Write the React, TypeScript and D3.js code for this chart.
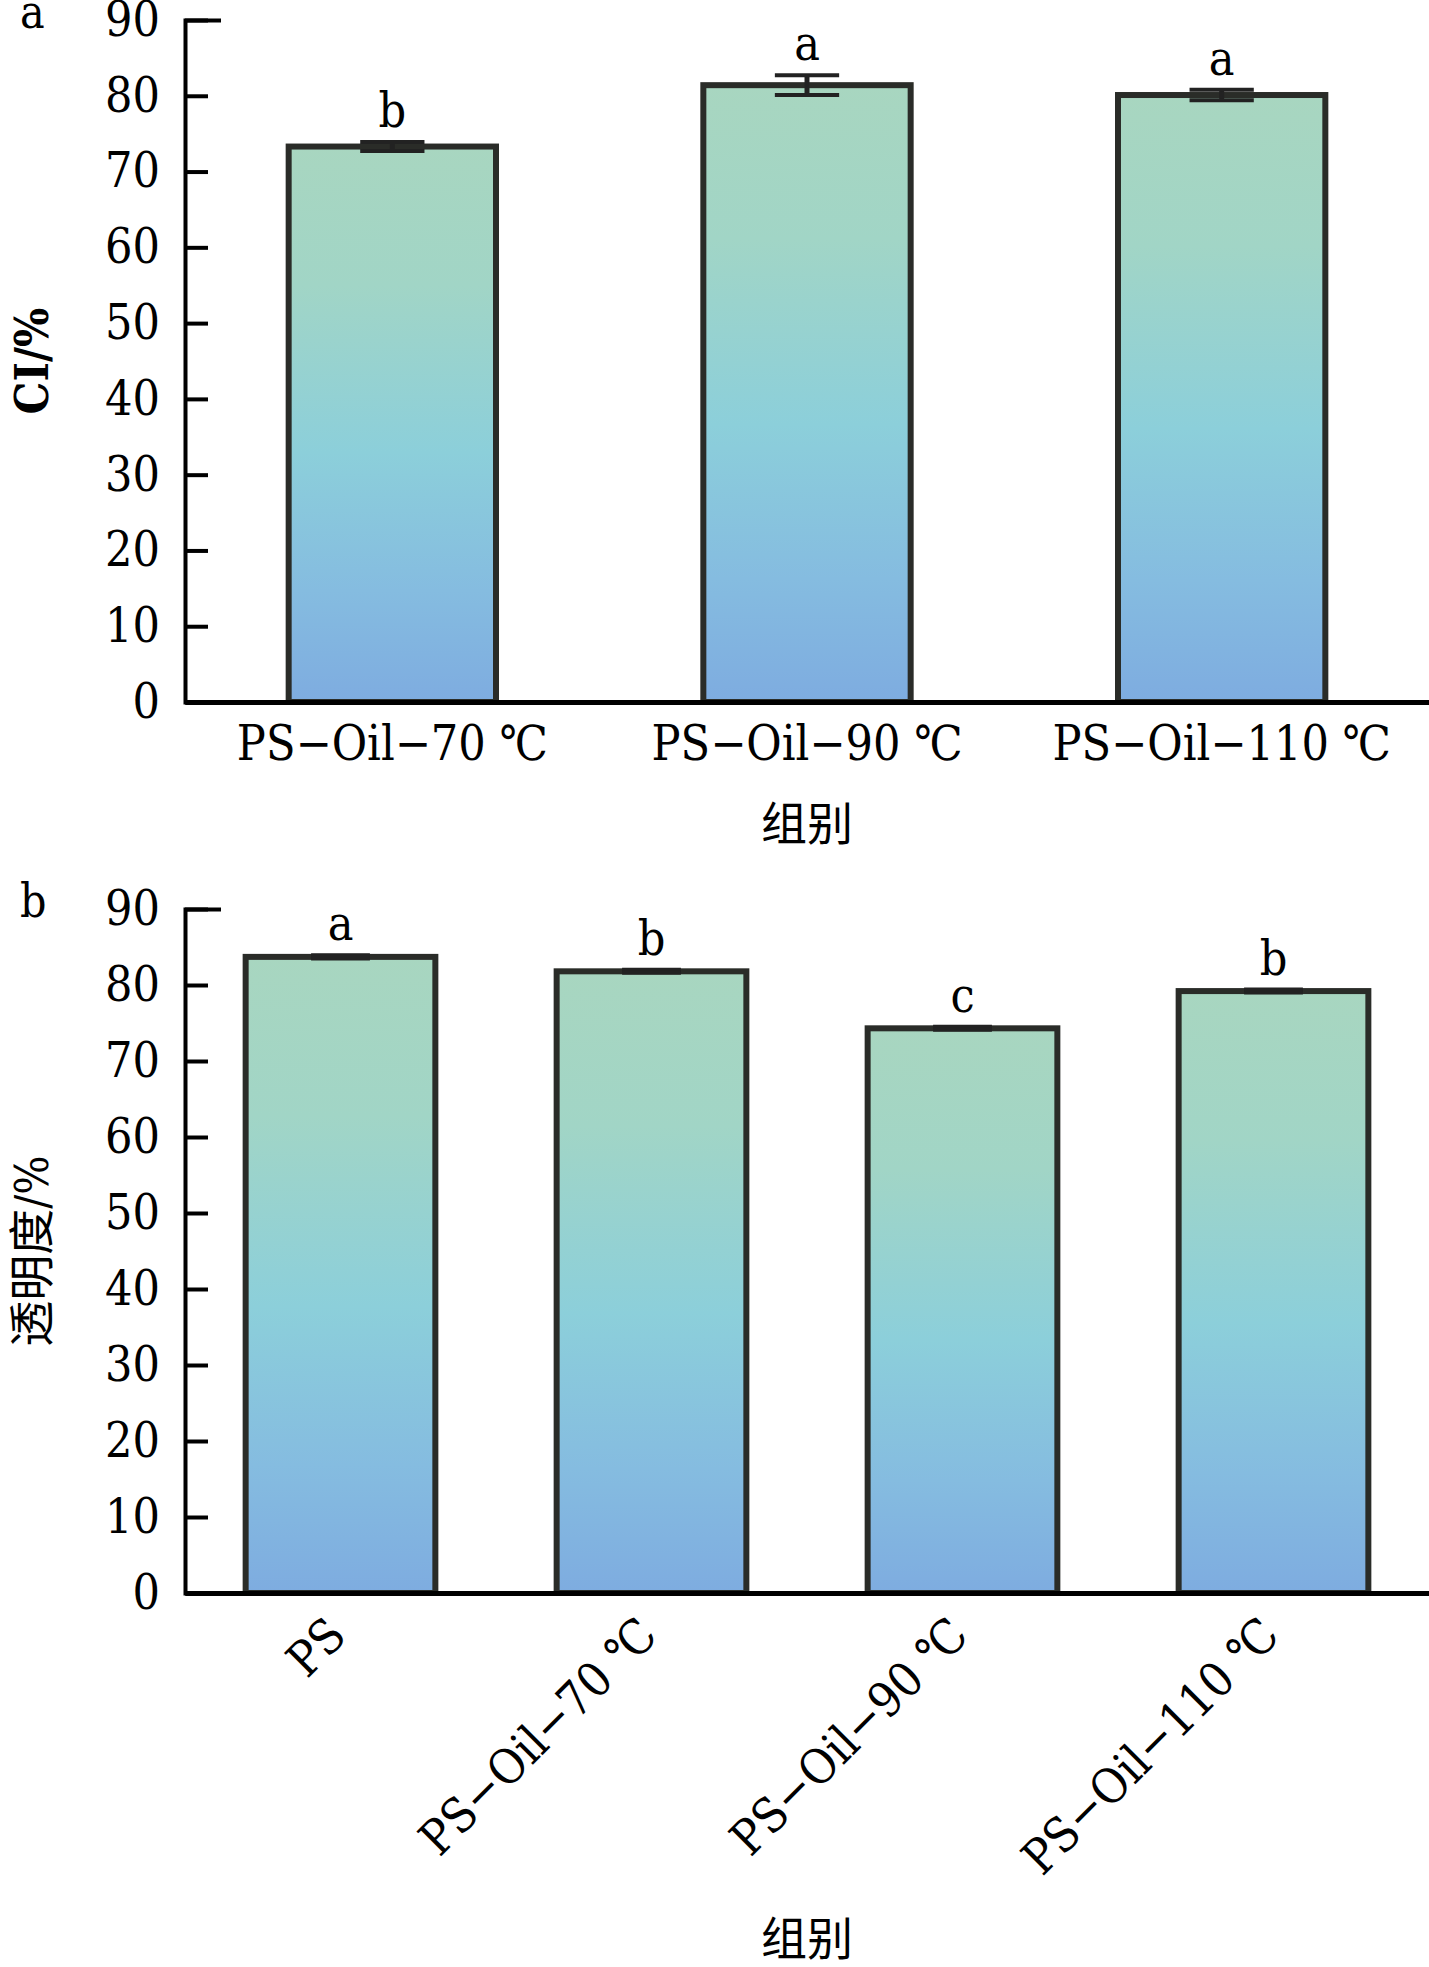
import { useEffect, useRef } from 'react';
import * as d3 from 'd3';

// panel a: CI
const groupsA = ['PS−Oil−70 ℃', 'PS−Oil−90 ℃', 'PS−Oil−110 ℃'];
const ciValues = [73.3, 81.4, 80.1];
const ciErrors = [0.6, 1.3, 0.7];
const ciLetters = ['b', 'a', 'a'];

// panel b: transparency
const groupsB = ['PS', 'PS−Oil−70 ℃', 'PS−Oil−90 ℃', 'PS−Oil−110 ℃'];
const transValues = [83.7, 81.8, 74.3, 79.2];
const transErrors = [0.2, 0.2, 0.2, 0.2];
const transLetters = ['a', 'b', 'c', 'b'];

const yTicks = [0, 10, 20, 30, 40, 50, 60, 70, 80, 90];

const W = 1429;
const H = 1967;
const SERIF = "'DejaVu Serif Condensed', 'DejaVu Serif', serif";
const CJK = "'Noto Sans CJK SC', sans-serif";

interface PanelOpts {
  tag: string;
  yLabel: string;
  groups: string[];
  values: number[];
  errors: number[];
  letters: string[];
  top: number;
  bottom: number;
  padInner: number;
  padOuter: number;
  rotate: boolean;
  titleY: number;
}

const App = () => {
  const svgRef = useRef<SVGSVGElement>(null);

  useEffect(() => {
    if (!svgRef.current) return;
    const svg = d3.select(svgRef.current);
    svg.selectAll('*').remove();

    const grad = svg.append('defs').append('linearGradient')
      .attr('id', 'barGrad')
      .attr('x1', 0).attr('y1', 0).attr('x2', 0).attr('y2', 1);
    [
      [0, '#a8d6c0'],
      [0.25, '#a1d5c6'],
      [0.55, '#8ccfda'],
      [0.8, '#85bce0'],
      [1, '#7eace0'],
    ].forEach(([o, c]) => grad.append('stop').attr('offset', o as number).attr('stop-color', c as string));

    const left = 185;
    const right = W;

    const drawPanel = (o: PanelOpts) => {
      const x = d3.scaleBand<string>()
        .domain(o.groups)
        .range([left, right])
        .paddingInner(o.padInner)
        .paddingOuter(o.padOuter);
      const y = d3.scaleLinear().domain([0, 90]).range([o.bottom, o.top]);
      const g = svg.append('g');

      // bars
      g.selectAll('rect.bar')
        .data(o.groups)
        .enter().append('rect')
        .attr('class', 'bar')
        .attr('x', d => x(d) || 0)
        .attr('y', (_, i) => y(o.values[i]))
        .attr('width', x.bandwidth())
        .attr('height', (_, i) => o.bottom - y(o.values[i]))
        .attr('fill', 'url(#barGrad)')
        .attr('stroke', '#2a2c28')
        .attr('stroke-width', 6);

      // error bars
      const cap = x.bandwidth() * 0.155;
      o.groups.forEach((d, i) => {
        const cx = (x(d) || 0) + x.bandwidth() / 2;
        const hi = y(o.values[i] + o.errors[i]);
        const lo = y(o.values[i] - o.errors[i]);
        g.append('line').attr('x1', cx).attr('x2', cx).attr('y1', hi).attr('y2', lo)
          .attr('stroke', '#222').attr('stroke-width', 5);
        [hi, lo].forEach(yy => {
          g.append('line').attr('x1', cx - cap).attr('x2', cx + cap).attr('y1', yy).attr('y2', yy)
            .attr('stroke', '#222').attr('stroke-width', 4);
        });
        g.append('text')
          .attr('x', cx)
          .attr('y', hi - 15)
          .attr('text-anchor', 'middle')
          .attr('font-family', SERIF)
          .attr('font-stretch', 'condensed')
          .attr('font-size', 48)
          .text(o.letters[i]);
      });

      // y axis
      const yAxis = g.append('g')
        .attr('transform', `translate(${left},0)`)
        .call(d3.axisLeft(y).tickValues(yTicks).tickSize(-23).tickSizeOuter(-36).tickPadding(25));
      yAxis.selectAll('path, line').attr('stroke', '#000').attr('stroke-width', 4);
      yAxis.selectAll('text')
        .attr('font-family', SERIF)
        .attr('font-stretch', 'condensed')
        .attr('font-size', 48)
        .attr('fill', '#000');

      // x axis
      const xAxis = g.append('g')
        .attr('transform', `translate(0,${o.bottom})`)
        .call(d3.axisBottom(x).tickSize(0).tickSizeOuter(0).tickPadding(o.rotate ? 0 : 24));
      xAxis.select('path').attr('stroke', '#000').attr('stroke-width', 5);
      const xt = xAxis.selectAll('text')
        .attr('font-family', SERIF)
        .attr('font-stretch', 'condensed')
        .attr('font-size', 48)
        .attr('fill', '#000');
      if (o.rotate) {
        xt.attr('text-anchor', 'end')
          .attr('dy', 0)
          .attr('y', 0)
          .attr('transform', 'translate(8,45) rotate(-45)');
      } else {
        xt.attr('dy', '0.71em');
      }

      // axis titles
      g.append('text')
        .attr('x', (left + right) / 2)
        .attr('y', o.titleY)
        .attr('text-anchor', 'middle')
        .attr('font-family', CJK)
        .attr('font-size', 46)
        .text('组别');

      g.append('text')
        .attr('transform', `translate(48,${(o.top + o.bottom) / 2}) rotate(-90)`)
        .attr('text-anchor', 'middle')
        .attr('font-family', `${SERIF}, ${CJK}`)
        .attr('font-size', 46)
        .attr('font-weight', o.tag === 'a' ? 'bold' : 'normal')
        .text(o.yLabel);

      g.append('text')
        .attr('x', 20)
        .attr('y', o.top + 8)
        .attr('font-family', SERIF)
        .attr('font-size', 46)
        .text(o.tag);
    };

    drawPanel({
      tag: 'a', yLabel: 'CI/%', groups: groupsA, values: ciValues, errors: ciErrors, letters: ciLetters,
      top: 20, bottom: 702, padInner: 0.5, padOuter: 0.25, rotate: false, titleY: 840,
    });
    drawPanel({
      tag: 'b', yLabel: '透明度/%', groups: groupsB, values: transValues, errors: transErrors, letters: transLetters,
      top: 909, bottom: 1593, padInner: 0.39, padOuter: 0.195, rotate: true, titleY: 1955,
    });
  }, []);

  return (
    <svg
      ref={svgRef}
      width={W}
      height={H}
      style={{ position: 'absolute', left: 0, top: 0, background: '#fff' }}
    />
  );
};

export default App;
